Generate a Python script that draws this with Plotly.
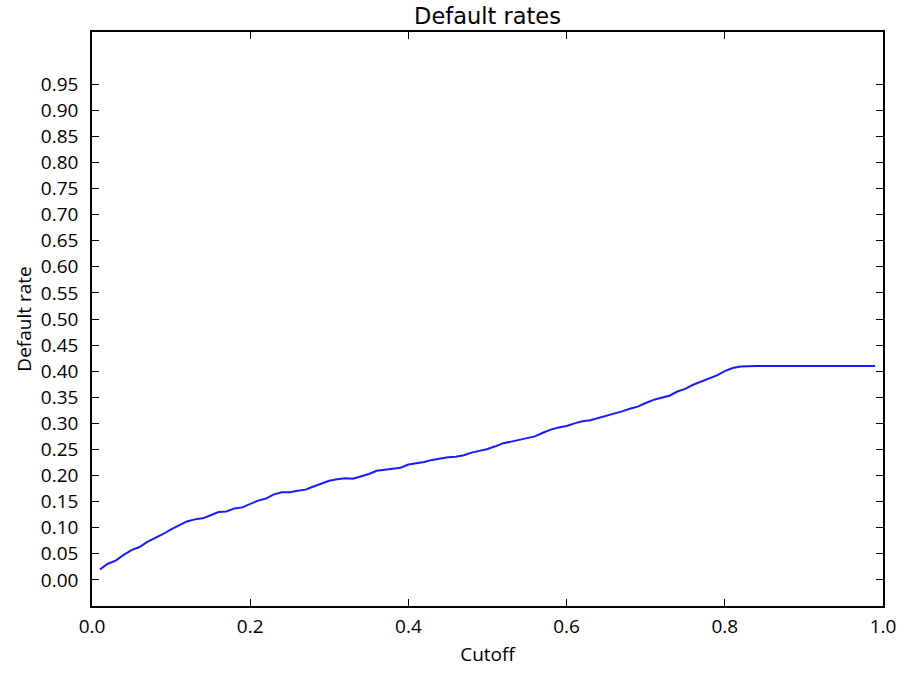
import plotly.graph_objects as go

cutoff = [round(0.01 * i, 2) for i in range(1, 100)]
default_rate = [
    0.020, 0.031, 0.037, 0.048, 0.057, 0.063, 0.073, 0.080, 0.088, 0.097,
    0.105, 0.112, 0.116, 0.118, 0.124, 0.130, 0.131, 0.137, 0.139, 0.146,
    0.152, 0.156, 0.164, 0.168, 0.168, 0.171, 0.173, 0.179, 0.184, 0.190,
    0.193, 0.195, 0.194, 0.198, 0.203, 0.209, 0.211, 0.212, 0.215, 0.221,
    0.223, 0.226, 0.230, 0.233, 0.235, 0.236, 0.239, 0.244, 0.247, 0.251,
    0.256, 0.262, 0.265, 0.268, 0.271, 0.275, 0.282, 0.288, 0.292, 0.295,
    0.300, 0.304, 0.306, 0.310, 0.314, 0.318, 0.323, 0.328, 0.332, 0.339,
    0.345, 0.349, 0.353, 0.361, 0.366, 0.374, 0.380, 0.386, 0.392, 0.400,
    0.406, 0.409, 0.410, 0.410, 0.410, 0.410, 0.410, 0.410, 0.410, 0.410,
    0.410, 0.410, 0.410, 0.410, 0.410, 0.410, 0.410, 0.410, 0.410,
]
x_ticks = [0.0, 0.2, 0.4, 0.6, 0.8, 1.0]
x_tick_labels = ["0.0", "0.2", "0.4", "0.6", "0.8", "1.0"]
y_ticks = [round(0.05 * i, 2) for i in range(20)]
y_tick_labels = [f"{v:.2f}" for v in y_ticks]

FONT = "Open Sans, DejaVu Sans, sans-serif"
TITLE_FONT = "DejaVu Sans, sans-serif"

fig = go.Figure()
fig.add_trace(go.Scatter(
    x=cutoff, y=default_rate, mode="lines",
    line=dict(color="#1a1aff", width=2),
    showlegend=False,
))

axis_common = dict(
    showline=True, linecolor="black", linewidth=1.5, mirror="allticks",
    ticks="inside", ticklen=7, tickwidth=1, tickcolor="black",
    showgrid=False, zeroline=False,
    tickfont=dict(family=FONT, size=19, color="black"),
)

fig.update_layout(
    width=908, height=674,
    margin=dict(l=92, r=24, t=32, b=61),
    paper_bgcolor="white", plot_bgcolor="white",
    title=dict(text="Default rates", x=0.5, xref="paper", xanchor="center",
               y=1 - 16 / 674, yanchor="middle", yref="container",
               font=dict(family=TITLE_FONT, size=22.5, color="black")),
    xaxis=dict(range=[0, 1], tickvals=x_ticks, ticktext=x_tick_labels,
               ticklabelstandoff=2,
               title=dict(text="Cutoff", standoff=10,
                          font=dict(family=FONT, size=19, color="black")),
               **axis_common),
    yaxis=dict(range=[-0.05, 1.05], tickvals=y_ticks, ticktext=y_tick_labels,
               ticklabelstandoff=8,
               title=dict(text="Default rate", standoff=4,
                          font=dict(family=FONT, size=19, color="black")),
               **axis_common),
)

fig.write_html(
    "out.html",
    config={"displayModeBar": False},
    post_script="document.body.style.margin='0';document.body.style.overflow='hidden';",
)
